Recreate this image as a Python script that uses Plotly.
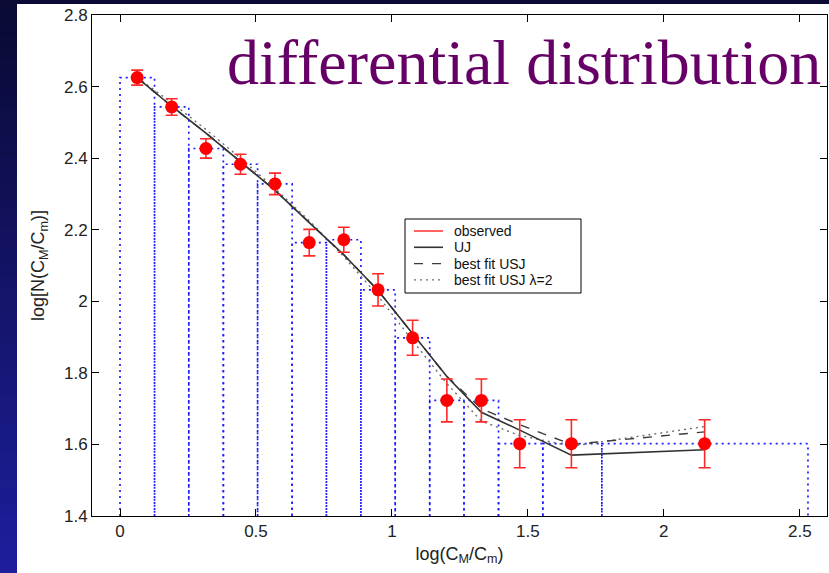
import plotly.graph_objects as go

# ---- data -------------------------------------------------------------
log_ratio = [0.063, 0.19, 0.316, 0.443, 0.57, 0.696, 0.823, 0.949,
             1.076, 1.202, 1.329, 1.47, 1.66, 2.15]
observed = [2.625, 2.543, 2.427, 2.383, 2.328, 2.164, 2.172, 2.032,
            1.898, 1.723, 1.723, 1.602, 1.602, 1.602]
observed_err = [0.021, 0.023, 0.027, 0.028, 0.030, 0.037, 0.035, 0.045,
                0.049, 0.060, 0.060, 0.067, 0.067, 0.067]
bin_edges = [0.0, 0.127, 0.253, 0.38, 0.506, 0.633, 0.759, 0.886, 1.012,
             1.139, 1.265, 1.392, 1.555, 1.772, 2.53]

model_uj = [2.625, 2.545, 2.47, 2.39, 2.31, 2.22, 2.13, 2.03,
            1.91, 1.79, 1.69, 1.64, 1.57, 1.585]
model_usj = [2.625, 2.545, 2.47, 2.39, 2.31, 2.22, 2.13, 2.03,
             1.91, 1.79, 1.70, 1.655, 1.60, 1.635]
model_usj_l2 = [2.625, 2.555, 2.48, 2.40, 2.315, 2.225, 2.125, 2.015,
                1.89, 1.77, 1.665, 1.625, 1.595, 1.65]

x_ticks = [0, 0.5, 1, 1.5, 2, 2.5]
y_ticks = [1.4, 1.6, 1.8, 2.0, 2.2, 2.4, 2.6, 2.8]
y_tick_text = ["1.4", "1.6", "1.8", "2", "2.2", "2.4", "2.6", "2.8"]

legend_labels = ["observed", "UJ", "best fit USJ", "best fit USJ \u03bb=2"]

X_RANGE = [-0.103, 2.6]
Y_RANGE = [1.4, 2.8]

# ---- styles ------------------------------------------------------------
RED = "rgb(255,0,0)"
STYLE_OBS = dict(color="rgb(255,60,60)", width=1.6)
STYLE_UJ = dict(color="rgb(50,50,50)", width=1.6)
STYLE_USJ = dict(color="rgb(60,60,60)", width=1.4, dash="dash")
STYLE_USJ_L2 = dict(color="rgb(110,110,110)", width=1.4, dash="2px,4px")
legend_styles = [STYLE_OBS, STYLE_UJ, STYLE_USJ, STYLE_USJ_L2]

# ---- canvas geometry (pixels) ------------------------------------------
W, H = 829, 573
L, R, T, B = 92, 827, 15, 516


def px(xp):
    return (xp - L) / (R - L)


def py(yp):
    return (B - yp) / (B - T)


fig = go.Figure()

# histogram outline: one dotted rectangle per bin
hx, hy = [], []
for i, h in enumerate(observed):
    x0, x1 = bin_edges[i], bin_edges[i + 1]
    hx += [x0, x0, x1, x1, None]
    hy += [Y_RANGE[0] - 0.05, h, h, Y_RANGE[0] - 0.05, None]
fig.add_trace(go.Scatter(x=hx, y=hy, mode="lines", showlegend=False,
                         hoverinfo="skip",
                         line=dict(color="rgb(30,30,255)", width=1.7,
                                   dash="2px,4px")))

# model curves
fig.add_trace(go.Scatter(x=log_ratio, y=model_usj_l2, mode="lines",
                         name=legend_labels[3], showlegend=False,
                         line=STYLE_USJ_L2))
fig.add_trace(go.Scatter(x=log_ratio, y=model_usj, mode="lines",
                         name=legend_labels[2], showlegend=False,
                         line=STYLE_USJ))
fig.add_trace(go.Scatter(x=log_ratio, y=model_uj, mode="lines",
                         name=legend_labels[1], showlegend=False,
                         line=STYLE_UJ))

# observed points with error bars
fig.add_trace(go.Scatter(x=log_ratio, y=observed, mode="markers",
                         name=legend_labels[0], showlegend=False,
                         marker=dict(color=RED, size=13),
                         error_y=dict(type="data", array=observed_err,
                                      color="rgb(255,40,40)", thickness=1.6,
                                      width=6)))

# slide background: dark blue vertical gradient with a white panel
shapes = []
n_bands = 48
for k in range(n_bands):
    t = k / (n_bands - 1)
    r = int(10 + t * 20)
    g = int(10 + t * 20)
    b = int(52 + t * 105)
    y0p = H * k / n_bands
    y1p = H * (k + 1) / n_bands + 1
    shapes.append(dict(type="rect", xref="paper", yref="paper", layer="below",
                       x0=px(0), x1=px(W), y0=py(y1p), y1=py(y0p),
                       fillcolor=f"rgb({r},{g},{b})", line=dict(width=0)))
shapes.append(dict(type="rect", xref="paper", yref="paper", layer="below",
                   x0=px(17), x1=px(W + 5), y0=py(H + 5), y1=py(4),
                   fillcolor="white", line=dict(width=0)))

# legend box with line samples and labels
annotations = []
LEG_X0, LEG_X1, LEG_Y0, LEG_Y1 = 405, 581, 219, 293
shapes.append(dict(type="rect", xref="paper", yref="paper", layer="above",
                   x0=px(LEG_X0), x1=px(LEG_X1), y0=py(LEG_Y1), y1=py(LEG_Y0),
                   fillcolor="white", line=dict(color="black", width=1)))
for i, (label, style) in enumerate(zip(legend_labels, legend_styles)):
    yrow = 231 + 16.3 * i
    shapes.append(dict(type="line", xref="paper", yref="paper", layer="above",
                       x0=px(414), x1=px(443), y0=py(yrow), y1=py(yrow),
                       line=style))
    annotations.append(dict(text=label, xref="paper", yref="paper",
                            x=px(452), y=py(yrow), xanchor="left",
                            yanchor="middle", showarrow=False,
                            font=dict(family="Liberation Sans, Arial, sans-serif",
                                      size=14, color="#111")))

annotations.append(dict(text="differential distribution", xref="paper",
                        yref="paper", x=px(225), y=py(62), xanchor="left",
                        yanchor="middle", showarrow=False,
                        font=dict(family="Liberation Serif, Times New Roman, serif",
                                  size=64, color="rgb(102,0,102)")))

tick_font = dict(family="Liberation Sans, Arial, sans-serif", size=17, color="#222")
title_font = dict(family="Liberation Sans, Arial, sans-serif", size=18, color="#222")

fig.update_layout(
    width=W, height=H,
    margin=dict(l=L, r=W - R, t=T, b=H - B, pad=0),
    paper_bgcolor="rgb(10,10,52)",
    plot_bgcolor="white",
    shapes=shapes,
    annotations=annotations,
    showlegend=False,
    xaxis=dict(range=X_RANGE, tickvals=x_ticks, ticks="inside", ticklen=7,
               tickcolor="black", showline=True, linecolor="black",
               linewidth=1, mirror="ticks", showgrid=False, zeroline=False,
               tickfont=tick_font,
               title=dict(text="log(C<sub>M</sub>/C<sub>m</sub>)",
                          font=title_font, standoff=6)),
    yaxis=dict(range=Y_RANGE, tickvals=y_ticks, ticktext=y_tick_text,
               ticks="inside", ticklen=7, tickcolor="black", showline=True,
               linecolor="black", linewidth=1, mirror="ticks", showgrid=False,
               zeroline=False, tickfont=tick_font,
               title=dict(text="log[N(C<sub>M</sub>/C<sub>m</sub>)]",
                          font=title_font, standoff=14)),
)

fig.write_html("out.html")
